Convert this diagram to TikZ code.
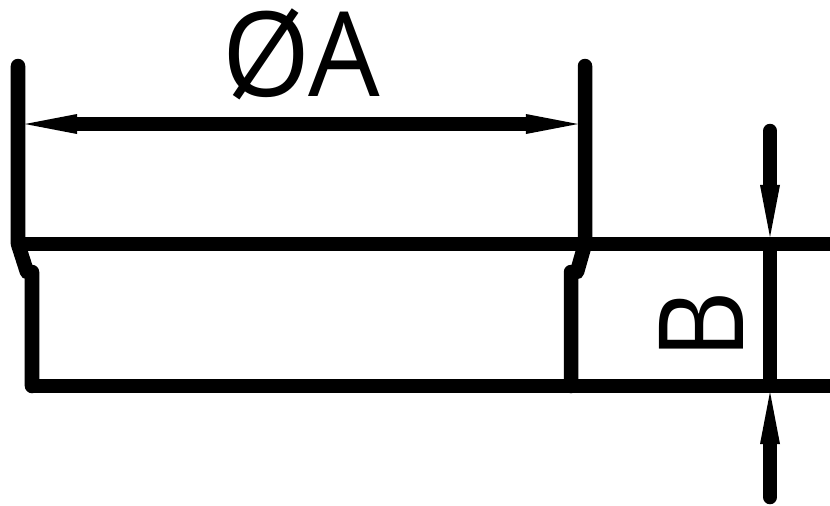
\documentclass[tikz,border=0pt]{standalone}
\usepackage{fontspec}
\setmainfont{Open Sans}
\usetikzlibrary{arrows.meta}

\begin{document}
\begin{tikzpicture}[x=0.01cm,y=-0.01cm,line width=0.145cm,line cap=round,line join=round,
  >={Triangle[length=0.52cm,width=0.2cm,line width=0pt]}]
  \useasboundingbox (0,0) rectangle (830,505);

  \coordinate (l1) at (18,66);
  \coordinate (l2) at (18,244);
  \coordinate (l3) at (27,272);
  \coordinate (l4) at (32,272);
  \coordinate (l5) at (32,386);
  \draw (l1) -- (l2) -- (l3) -- (l4) -- (l5);

  \coordinate (r1) at (585,66);
  \coordinate (r2) at (585,244);
  \coordinate (r3) at (577,272);
  \coordinate (r4) at (571,272);
  \coordinate (r5) at (571,386);
  \draw (r1) -- (r2) -- (r3) -- (r4) -- (r5);

  \coordinate (e1) at (830,244);
  \coordinate (e2) at (830,386);
  \draw[line cap=butt] (l2) -- (e1);
  \draw[line cap=butt] (l5) -- (e2);

  \coordinate (a1) at (25,124);
  \coordinate (a2) at (578,124);
  \draw[<->] (a1) -- (a2);

  \coordinate (b1) at (770,131);
  \coordinate (b2) at (770,237);
  \coordinate (b3) at (770,497);
  \coordinate (b4) at (770,392);
  \coordinate (b5) at (770,244);
  \coordinate (b6) at (770,386);
  \draw[->] (b1) -- (b2);
  \draw[->] (b3) -- (b4);
  \draw[line cap=butt] (b5) -- (b6);

  \node[inner sep=0pt,font=\fontsize{33.5}{33.5}\selectfont,xscale=0.96] (dia) at (301,54) {ØA};
  \node[inner sep=0pt,rotate=90,font=\fontsize{33.5}{33.5}\selectfont,xscale=0.9] (thk) at (701,325) {B};
\end{tikzpicture}
\end{document}
